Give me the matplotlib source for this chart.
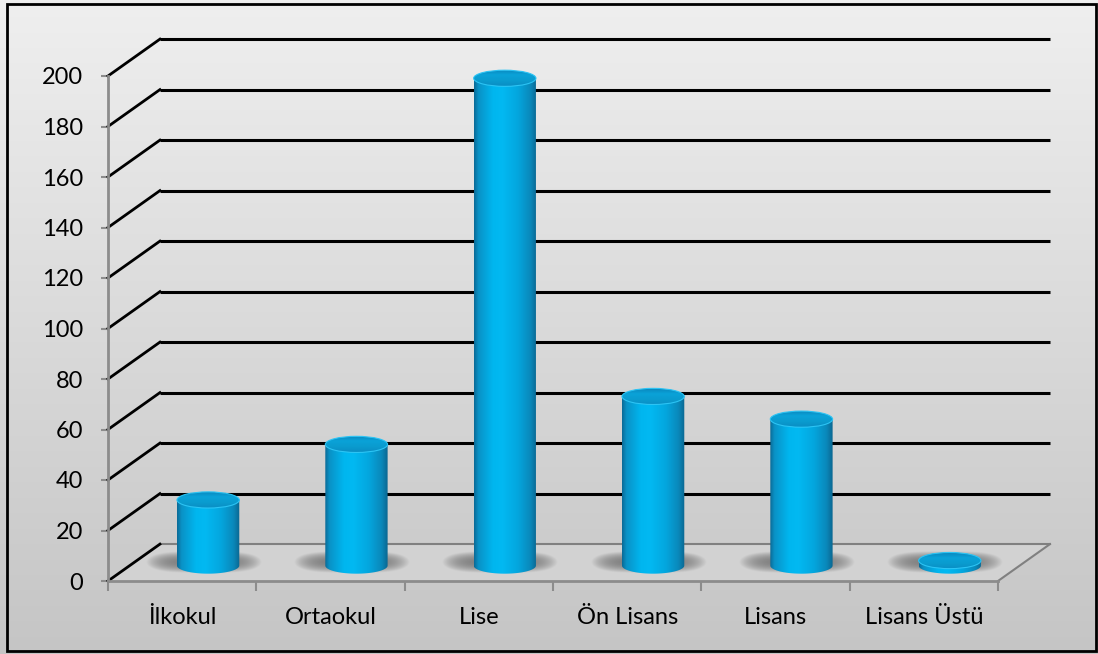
import numpy as np
import matplotlib
matplotlib.use("Agg")
import matplotlib.pyplot as plt
from matplotlib.patches import Ellipse, Polygon, Rectangle
from matplotlib.colors import LinearSegmentedColormap

categories = ["İlkokul", "Ortaokul", "Lise", "Ön Lisans", "Lisans", "Lisans Üstü"]
values = [26, 48, 193, 67, 58, 2]
yticks = list(range(0, 201, 20))

plt.rcParams['font.family'] = ['Lato', 'DejaVu Sans']

W, H = 1098, 654
fig = plt.figure(figsize=(W / 100, H / 100), dpi=100)

# background gradient
bg = fig.add_axes([0, 0, 1, 1], zorder=0)
grad = np.linspace(0, 1, 256).reshape(-1, 1)
bg_cmap = LinearSegmentedColormap.from_list("bg", ["#efefef", "#c5c5c5"])
bg.imshow(grad, aspect="auto", cmap=bg_cmap, extent=[0, 1, 0, 1], origin="upper")
bg.set_axis_off()

# main axes = front plane
ax = fig.add_axes([108 / W, 73 / H, 890 / W, 505 / H], zorder=1)
ax.patch.set_alpha(0)
ax.set_xlim(-0.5, 5.5)
ax.set_ylim(0, 200)

DX = 0.35   # depth offset (category units)
DY = 14.6   # depth offset (value units)

# floor fill
floor = Polygon([[-0.5, 0], [5.5, 0], [5.5 + DX, DY], [-0.5 + DX, DY]], closed=True,
                facecolor="#d2d2d2", edgecolor="none", clip_on=False, zorder=1)
ax.add_patch(floor)
ax.plot([-0.5 + DX, 5.5 + DX], [DY, DY], color="#808080", lw=1.5, clip_on=False, zorder=2)
ax.plot([5.5, 5.5 + DX], [0, DY], color="#808080", lw=1.5, clip_on=False, zorder=2)

# gridlines: back wall + side wall diagonals
for v in yticks:
    if v > 0:
        ax.plot([-0.5 + DX, 5.5 + DX], [v + DY, v + DY], color="black", lw=2.2,
                clip_on=False, zorder=2, solid_capstyle="butt")
    ax.plot([-0.5, -0.5 + DX], [v, v + DY], color="black", lw=2.0, clip_on=False, zorder=2)

# cylinders
body_cmap = LinearSegmentedColormap.from_list(
    "cyl", [(0.0, "#0a6a96"), (0.07, "#0a92c6"), (0.3, "#00b6ef"), (0.45, "#02b9f2"),
            (0.7, "#04a6de"), (0.9, "#0a88ba"), (1.0, "#0b6690")])
top_cmap = LinearSegmentedColormap.from_list(
    "top", ["#0a86bb", "#0aa2d8", "#0a9ccf", "#0a8ec4"])
bw = 0.42
eh = 6.4
xg = np.linspace(0, 1, 256).reshape(1, -1)

for i, v in enumerate(values):
    cx = i + DX / 2
    yb = DY / 2 - 1.2
    yt = yb + v
    r = bw / 2
    # shadow on floor
    sx = np.linspace(-1, 1, 200)
    sy = np.linspace(-1, 1, 60)
    SX, SY = np.meshgrid(sx, sy)
    prof = np.clip(1 - (np.abs(SX) ** 4 + np.abs(SY) ** 2), 0, 1) ** 1.0
    rgba = np.zeros((60, 200, 4))
    rgba[..., :3] = 0.42
    rgba[..., 3] = prof * 0.8
    ax.imshow(rgba, extent=[cx - 0.42, cx + 0.36, yb - 3.0, yb + 5.5], aspect="auto",
              zorder=3, clip_on=False, interpolation="bilinear")
    # body
    t = np.linspace(np.pi, 2 * np.pi, 60)
    pts = np.column_stack([cx + r * np.cos(t), yb + (eh / 2) * np.sin(t)])
    pts = np.vstack([pts, [[cx + r, yt], [cx - r, yt]]])
    body = Polygon(pts, closed=True, facecolor="none", edgecolor="none", zorder=4)
    ax.add_patch(body)
    im = ax.imshow(xg, cmap=body_cmap, extent=[cx - r, cx + r, yb - eh, yt],
                   aspect="auto", zorder=4, interpolation="bilinear")
    im.set_clip_path(body)
    im.set_clip_box(fig.bbox)
    # top
    top = Ellipse((cx, yt), bw, eh, facecolor="none", edgecolor="none", zorder=5,
                  clip_on=False)
    ax.add_patch(top)
    yg = np.linspace(0, 1, 64).reshape(-1, 1)
    im2 = ax.imshow(yg, cmap=top_cmap, extent=[cx - r, cx + r, yt - eh / 2, yt + eh / 2],
                    aspect="auto", zorder=5, interpolation="bilinear", origin="upper")
    im2.set_clip_path(top)
    im2.set_clip_box(fig.bbox)
    ax.add_patch(Ellipse((cx, yt), bw, eh, facecolor="none", edgecolor="#2cc4f4",
                         lw=0.8, zorder=6, clip_on=False))

ax.set_aspect("auto")
ax.set_xlim(-0.5, 5.5)
ax.set_ylim(0, 200)

# axes styling
for s in ["top", "right"]:
    ax.spines[s].set_visible(False)
for s in ["left", "bottom"]:
    ax.spines[s].set_color("#8c8c8c")
    ax.spines[s].set_linewidth(2)
ax.set_yticks(yticks)
ax.set_yticklabels([str(v) for v in yticks])
ax.tick_params(axis="y", length=5, width=1.5, color="#8c8c8c", pad=13, labelsize=17)
ax.set_xticks(range(len(categories)))
ax.set_xticklabels(categories)
ax.tick_params(axis="x", length=0, pad=19, labelsize=17)
ax.set_xticks(np.arange(-0.5, 6, 1), minor=True)
ax.tick_params(axis="x", which="minor", length=7, width=1.5, color="#8c8c8c")

# border
fig.add_artist(Rectangle((7 / W, 3 / H), 1 - 9 / W, 1 - 7 / H, transform=fig.transFigure,
                         facecolor="none", edgecolor="black", lw=2, zorder=10))

fig.savefig("out.png", dpi=100)
